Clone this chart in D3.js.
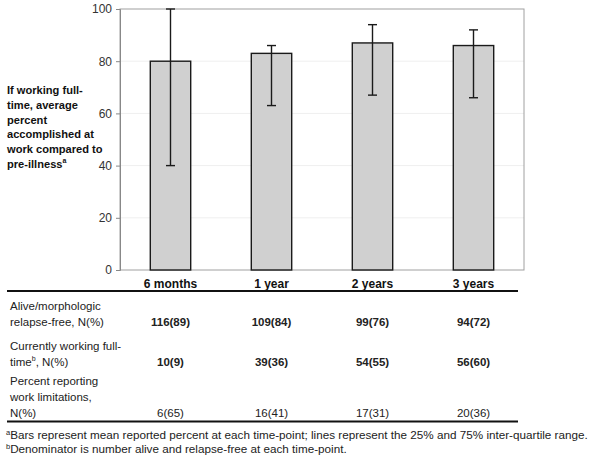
<!DOCTYPE html>
<html><head><meta charset="utf-8">
<script src="https://cdn.jsdelivr.net/npm/d3@7"></script>
<style>
body{margin:0;background:#fff;}
text{font-family:"Liberation Sans",Arial,sans-serif;}
</style></head>
<body><svg id="c" width="601" height="465"></svg>
<script>
const categories = ["6 months", "1 year", "2 years", "3 years"];
const meanPercent = [80, 83, 87, 86];
const q25 = [40, 63, 67, 66];
const q75 = [100, 86, 94, 92];
const yTicks = [0, 20, 40, 60, 80, 100];
const yLabelLines = ["If working full-", "time, average", "percent", "accomplished at", "work compared to", "pre-illness"];
const rowLabels = [
  ["Alive/morphologic", "relapse-free, N(%)"],
  ["Currently working full-", "time|b|, N(%)"],
  ["Percent reporting", "work limitations,", "N(%)"]
];
const aliveRelapseFree = ["116(89)", "109(84)", "99(76)", "94(72)"];
const workingFullTime = ["10(9)", "39(36)", "54(55)", "56(60)"];
const workLimitations = ["6(65)", "16(41)", "17(31)", "20(36)"];
const footnotes = [
  ["a", "Bars represent mean reported percent at each time-point; lines represent the 25% and 75% inter-quartile range."],
  ["b", "Denominator is number alive and relapse-free at each time-point."]
];

const FF = "Liberation Sans, Arial, sans-serif";
const svg = d3.select("#c");
const L = 120, R = 524, T = 9, B = 270;
const x = d3.scaleBand().domain(categories).range([L, R]).paddingInner(0.6).paddingOuter(0.3);
const y = d3.scaleLinear().domain([0, 100]).range([B, T]);
const cxOf = c => x(c) + x.bandwidth() / 2;

// gridlines
svg.append("g").selectAll("line").data(yTicks.filter(d => d > 0 && d < 100)).join("line")
  .attr("x1", L).attr("x2", R).attr("y1", d => y(d)).attr("y2", d => y(d))
  .attr("stroke", "#efefef").attr("stroke-width", 1);
// frame
svg.append("rect").attr("x", L).attr("y", T).attr("width", R - L).attr("height", B - T)
  .attr("fill", "none").attr("stroke", "#a0a0a0").attr("stroke-width", 1);

// y axis
const yAxis = d3.axisLeft(y).tickValues(yTicks).tickSize(4).tickPadding(4);
const ya = svg.append("g").attr("transform", `translate(${L},0)`).call(yAxis);
ya.select(".domain").attr("stroke", "#888");
ya.selectAll(".tick line").attr("stroke", "#888");
ya.selectAll(".tick text").attr("font-size", 12).attr("fill", "#333").attr("font-family", FF);

// bars
const idx = d3.range(categories.length);
svg.append("g").selectAll("rect").data(idx).join("rect")
  .attr("x", i => x(categories[i])).attr("width", x.bandwidth())
  .attr("y", i => y(meanPercent[i])).attr("height", i => y(0) - y(meanPercent[i]))
  .attr("fill", "#d0d0d0").attr("stroke", "#1a1a1a").attr("stroke-width", 1.4);

// error bars
const eb = svg.append("g").attr("stroke", "#1a1a1a").attr("stroke-width", 1.4);
idx.forEach(i => {
  const cx = cxOf(categories[i]);
  eb.append("line").attr("x1", cx).attr("x2", cx).attr("y1", y(q25[i])).attr("y2", y(q75[i]));
  eb.append("line").attr("x1", cx - 4.5).attr("x2", cx + 4.5).attr("y1", y(q25[i])).attr("y2", y(q25[i]));
  eb.append("line").attr("x1", cx - 4.5).attr("x2", cx + 4.5).attr("y1", y(q75[i])).attr("y2", y(q75[i]));
});

// x labels
const xa = svg.append("g").attr("transform", `translate(0,${B})`).call(d3.axisBottom(x).tickSize(0).tickPadding(9));
xa.select(".domain").remove();
xa.selectAll(".tick text").attr("font-size", 12).attr("font-weight", "bold").attr("fill", "#111")
  .attr("font-family", FF);

// y label
const yl = svg.append("text").attr("font-size", 11.1).attr("font-weight", "bold").attr("fill", "#111");
yLabelLines.forEach((s, i) => {
  yl.append("tspan").attr("x", 7).attr("y", 94 + i * 14.8).text(s);
});
yl.append("tspan").attr("font-size", 7).attr("dy", -5).text("a");

// table lines
svg.append("line").attr("x1", 7).attr("x2", 518).attr("y1", 291).attr("y2", 291).attr("stroke", "#111").attr("stroke-width", 2);
svg.append("line").attr("x1", 7).attr("x2", 518).attr("y1", 421.5).attr("y2", 421.5).attr("stroke", "#111").attr("stroke-width", 2);

const rowBase = [[309.5, 326], [349.5, 366], [385, 401, 417]];
rowLabels.forEach((lines, r) => {
  lines.forEach((s, k) => {
    const t = svg.append("text").attr("x", 10).attr("y", rowBase[r][k]).attr("font-size", 11.5).attr("fill", "#222");
    const parts = s.split("|");
    t.append("tspan").text(parts[0]);
    if (parts.length > 1) {
      t.append("tspan").attr("font-size", 7).attr("dy", -5).text(parts[1]);
      t.append("tspan").attr("dy", 5).text(parts[2]);
    }
  });
});
const rows = [[aliveRelapseFree, true, 326], [workingFullTime, true, 366], [workLimitations, false, 417]];
rows.forEach(([vals, bold, yy]) => {
  svg.append("g").selectAll("text").data(vals).join("text")
    .attr("x", (d, i) => cxOf(categories[i])).attr("y", yy).attr("text-anchor", "middle")
    .attr("font-size", 11.5).attr("font-weight", bold ? "bold" : "normal").attr("fill", "#222").text(d => d);
});

// footnotes
[439, 453].forEach((yy, i) => {
  const t = svg.append("text").attr("x", 6).attr("y", yy).attr("font-size", 11.7).attr("fill", "#222");
  t.append("tspan").attr("font-size", 7.5).attr("dy", -4).text(footnotes[i][0]);
  t.append("tspan").attr("dy", 4).text(footnotes[i][1]);
});
</script></body></html>
